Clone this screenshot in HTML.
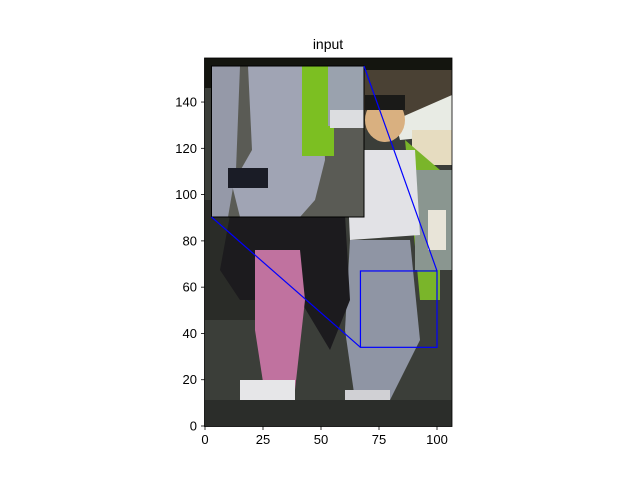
<!DOCTYPE html>
<html><head><meta charset="utf-8"><style>
body{margin:0;background:#fff;width:640px;height:480px;overflow:hidden}
text{font-family:"Liberation Sans","DejaVu Sans",sans-serif}
</style></head><body>
<svg width="640" height="480" xmlns="http://www.w3.org/2000/svg">
<text x="328" y="49" font-size="14" text-anchor="middle">input</text>
<defs><clipPath id="img"><rect x="204.5" y="58" width="247.5" height="368.5"/></clipPath>
<clipPath id="ins"><rect x="211.5" y="66" width="152.5" height="151"/></clipPath></defs>
<g clip-path="url(#img)">
<rect x="204" y="58" width="249" height="369" fill="#3b3e39"/>
<rect x="204" y="58" width="249" height="30" fill="#14150f"/>
<rect x="360" y="70" width="92" height="60" fill="#4a4134"/>
<rect x="204" y="200" width="60" height="120" fill="#2a2c28"/>
<polygon points="395,120 452,95 452,135 400,140" fill="#e8ebe4"/>
<rect x="412" y="130" width="40" height="35" fill="#e6dcc0"/>
<polygon points="405,140 440,170 440,300 420,300" fill="#7ab52a"/>
<rect x="415" y="170" width="37" height="100" fill="#8a9690"/>
<rect x="428" y="210" width="18" height="40" fill="#e8e4d8"/>
<ellipse cx="385" cy="120" rx="20" ry="22" fill="#d9b080"/>
<rect x="365" y="95" width="40" height="15" fill="#1a1a18"/>
<polygon points="346,150 415,150 420,235 350,240" fill="#e2e2e6"/>
<polygon points="350,240 410,240 420,340 390,400 370,400 355,400 345,330" fill="#8f95a4"/>
<polygon points="230,215 345,215 350,300 330,350 300,300 240,300 220,270" fill="#1c1b1e"/>
<polygon points="255,250 300,250 305,300 295,390 265,395 255,330" fill="#c0729f"/>
<rect x="240" y="380" width="55" height="45" fill="#e6e6e8"/>
<rect x="345" y="390" width="45" height="35" fill="#d0d0d4"/>
<rect x="204" y="400" width="250" height="27" fill="#2b2d2a"/>
</g>
<g>
<g clip-path="url(#ins)">
<rect x="211.5" y="66" width="152.5" height="151" fill="#5a5b55"/>
<polygon points="211,66 240,66 236,170 228,217 211,217" fill="#9599a8"/>
<polygon points="248,66 322,66 325,160 315,200 300,217 240,217 232,185 252,150" fill="#a0a4b4"/>
<rect x="228" y="168" width="40" height="20" fill="#1a1c26"/>
<rect x="302" y="66" width="32" height="90" fill="#7cbf22"/>
<rect x="328" y="66" width="36" height="60" fill="#9aa2ae"/>
<rect x="330" y="110" width="34" height="18" fill="#dcdde0"/>
</g>
<rect x="211.5" y="66" width="152.5" height="151" fill="none" stroke="#000" stroke-width="1"/>
</g>
<g id="zoomg" stroke="#0000ff" stroke-width="1.2" fill="none"></g>
<g id="axes"><rect x="204.5" y="58" width="247.5" height="368.5" fill="none" stroke="#000" stroke-width="0.8"/></g>
</svg>
<script>
const xTicks=[0,25,50,75,100];
const yTicks=[0,20,40,60,80,100,120,140];
const zoomBox=[67,100,34,67];
const X=v=>205+2.32*v, Y=v=>426-2.314*v;
const ns="http://www.w3.org/2000/svg";
const ax=document.getElementById('axes');
function mk(t,a,p){const e=document.createElementNS(ns,t);for(const k in a)e.setAttribute(k,a[k]);p.appendChild(e);return e;}
xTicks.forEach(v=>{
 const l=mk('line',{x1:X(v),x2:X(v),y1:426.5,y2:430,stroke:'#000','stroke-width':0.8},ax);
 
 
 const t=mk('text',{x:X(v),y:444,'font-size':13,'text-anchor':'middle'},ax);t.textContent=v;
 
 
});
yTicks.forEach(v=>{
 const l=mk('line',{x1:201,x2:204.5,y1:Y(v),y2:Y(v),stroke:'#000','stroke-width':0.8},ax);
 
 
 const t=mk('text',{x:197,y:Y(v)+4.5,'font-size':13,'text-anchor':'end'},ax);t.textContent=v;
 
 
});
const z=document.getElementById('zoomg');
const [x0,x1,y0,y1]=zoomBox;
const r=mk('rect',{x:X(x0),y:Y(y1),width:X(x1)-X(x0),height:Y(y0)-Y(y1)},z);


const c1=mk('line',{x1:211.5,y1:217,x2:X(x0),y2:Y(y0)},z);


const c2=mk('line',{x1:364,y1:66,x2:X(x1),y2:Y(y1)},z);


</script>
</body></html>
